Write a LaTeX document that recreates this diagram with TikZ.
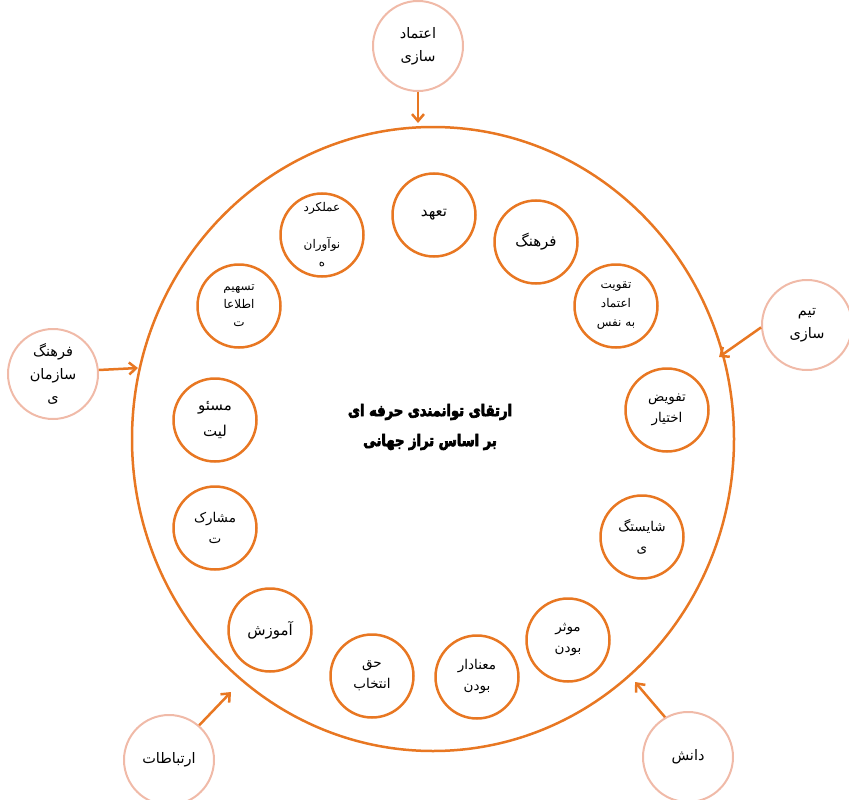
\documentclass[tikz,border=0pt]{standalone}
\usepackage{fontspec}
\newfontfamily\arabicfont[Script=Arabic]{DejaVu Sans}
\newfontfamily\titlefont[Script=Arabic,FakeStretch=0.82,BoldFeatures={FakeBold=4}]{DejaVu Sans}
\TeXXeTstate=1
\usetikzlibrary{arrows.meta,shapes.geometric}
\definecolor{orng}{RGB}{232,119,34}
\definecolor{salmon}{RGB}{240,186,168}
\newcommand\fatext[1]{\beginR #1\endR}
\begin{document}
\begin{tikzpicture}[x=1pt,y=-1pt,
  inner/.style={circle,draw=orng,line width=2.5pt,minimum size=83pt,inner sep=0pt,align=center,
    font=\arabicfont\fontsize{13.5}{21}\selectfont},
  outer/.style={circle,draw=salmon,line width=2pt,minimum size=90pt,inner sep=0pt,align=center,
    font=\arabicfont\fontsize{14.5}{23}\selectfont},
  arr/.style={draw=orng,line width=2.5pt,-{Straight Barb[length=7pt,width=12pt]}}]
\useasboundingbox (0,0) rectangle (849,800);
% big ring
\node[ellipse,draw=orng,line width=2.5pt,minimum width=602pt,minimum height=624pt,inner sep=0pt] (big) at (433,439) {};
% title
\node[font=\titlefont\bfseries\fontsize{16}{30}\selectfont,align=center] (title) at (430,427) {\fatext{ارتقای توانمندی حرفه ای}\\\fatext{بر اساس تراز جهانی}};
% inner circles
\node[inner,font=\arabicfont\fontsize{15}{21}\selectfont] (c1) at (434,215) {\fatext{تعهد}};
\node[inner,font=\arabicfont\fontsize{15}{21}\selectfont] (c2) at (536,242) {\fatext{فرهنگ}};
\node[inner,font=\arabicfont\fontsize{12}{19}\selectfont] (c3) at (616,306) {\fatext{تقویت}\\\fatext{اعتماد}\\\fatext{به نفس}};
\node[inner] (c4) at (667,410) {\fatext{تفویض}\\\fatext{اختیار}};
\node[inner] (c5) at (642,537) {\fatext{شایستگ}\\\fatext{ی}};
\node[inner] (c6) at (568,640) {\fatext{موثر}\\\fatext{بودن}};
\node[inner] (c7) at (477,677) {\fatext{معنادار}\\\fatext{بودن}};
\node[inner] (c8) at (372,676) {\fatext{حق}\\\fatext{انتخاب}};
\node[inner,font=\arabicfont\fontsize{15}{21}\selectfont] (c9) at (270,630) {\fatext{آموزش}};
\node[inner] (c10) at (215,528) {\fatext{مشارک}\\\fatext{ت}};
\node[inner,font=\arabicfont\fontsize{15}{26}\selectfont] (c11) at (215,420) {\fatext{مسئو}\\\fatext{لیت}};
\node[inner,font=\arabicfont\fontsize{12}{18}\selectfont] (c12) at (239,306) {\fatext{تسهیم}\\\fatext{اطلاعا}\\\fatext{ت}};
\node[inner,font=\arabicfont\fontsize{12}{18}\selectfont] (c13) at (322,235) {\fatext{عملکرد}\\[19pt]\fatext{نوآوران}\\\fatext{ه}};
% outer circles
\node[outer] (et) at (418,46) {\fatext{اعتماد}\\\fatext{سازی}};
\node[outer] (tim) at (807,325) {\fatext{تیم}\\\fatext{سازی}};
\node[outer] (fs) at (53,374) {\fatext{فرهنگ}\\\fatext{سازمان}\\\fatext{ی}};
\node[outer] (ert) at (169,760) {\fatext{ارتباطات}};
\node[outer] (dan) at (688,757) {\fatext{دانش}};
% arrow tips
\coordinate (ta) at (418,123);
\coordinate (tb) at (719,357);
\coordinate (tc) at (138,368);
\coordinate (td) at (231,692);
\coordinate (te) at (635,682);
\draw[arr] (et.south) -- (ta);
\draw[arr] (tim.183) -- (tb);
\draw[arr] (fs.5) -- (tc);
\draw[arr] (ert.49) -- (td);
\draw[arr] (dan.120) -- (te);
\end{tikzpicture}
\end{document}
